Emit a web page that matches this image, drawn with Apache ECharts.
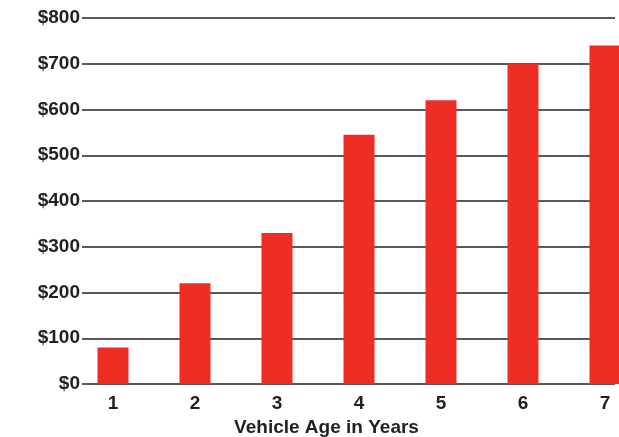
<!DOCTYPE html>
<html>
<head>
<meta charset="utf-8">
<script src="https://cdn.jsdelivr.net/npm/echarts@6/dist/echarts.min.js"></script>
<style>
  html, body { margin: 0; padding: 0; background: #fff; }
  #chart { width: 619px; height: 437px; }
</style>
</head>
<body>
<div id="chart"></div>
<script>
// vehicle age (years) and cost values
const ages = [1, 2, 3, 4, 5, 6, 7];
const costs = [80, 220, 330, 545, 620, 700, 740];
const yTicks = [0, 100, 200, 300, 400, 500, 600, 700, 800];

const chart = echarts.init(document.getElementById('chart'));

const textColor = '#231f20';
const fontFamily = '"Liberation Sans", Arial, sans-serif';

const option = {
    backgroundColor: '#fff',
    animation: false,
    grid: {
        left: 82,
        right: 4,
        top: 18,
        bottom: 53,
        containLabel: false,
        outerBoundsMode: 'none'
    },
    xAxis: {
        type: 'value',
        min: 0.622,
        max: 7.122,
        name: 'Vehicle Age in Years',
        nameLocation: 'middle',
        nameGap: 31,
        nameTextStyle: {
            color: textColor,
            fontFamily: fontFamily,
            fontWeight: 'bold',
            fontSize: 19,
            padding: [0, 44, 0, 0]
        },
        axisLine: { show: false },
        axisTick: { show: false },
        splitLine: { show: false },
        axisLabel: {
            customValues: ages,
            margin: 10,
            color: textColor,
            fontFamily: fontFamily,
            fontWeight: 'bold',
            fontSize: 19
        }
    },
    yAxis: {
        type: 'value',
        min: yTicks[0],
        max: yTicks[yTicks.length - 1],
        interval: 100,
        axisLine: { show: false },
        axisTick: { show: false },
        axisLabel: {
            margin: 2,
            color: textColor,
            fontFamily: fontFamily,
            fontWeight: 'bold',
            fontSize: 19,
            formatter: v => '$' + v
        },
        splitLine: {
            lineStyle: { color: '#222', width: 1.5 }
        }
    },
    series: [
        {
            type: 'bar',
            data: ages.map((a, i) => [a, costs[i]]),
            barWidth: 31,
            clip: false,
            itemStyle: { color: '#ee2e25' }
        }
    ]
};

chart.setOption(option);
</script>
</body>
</html>
